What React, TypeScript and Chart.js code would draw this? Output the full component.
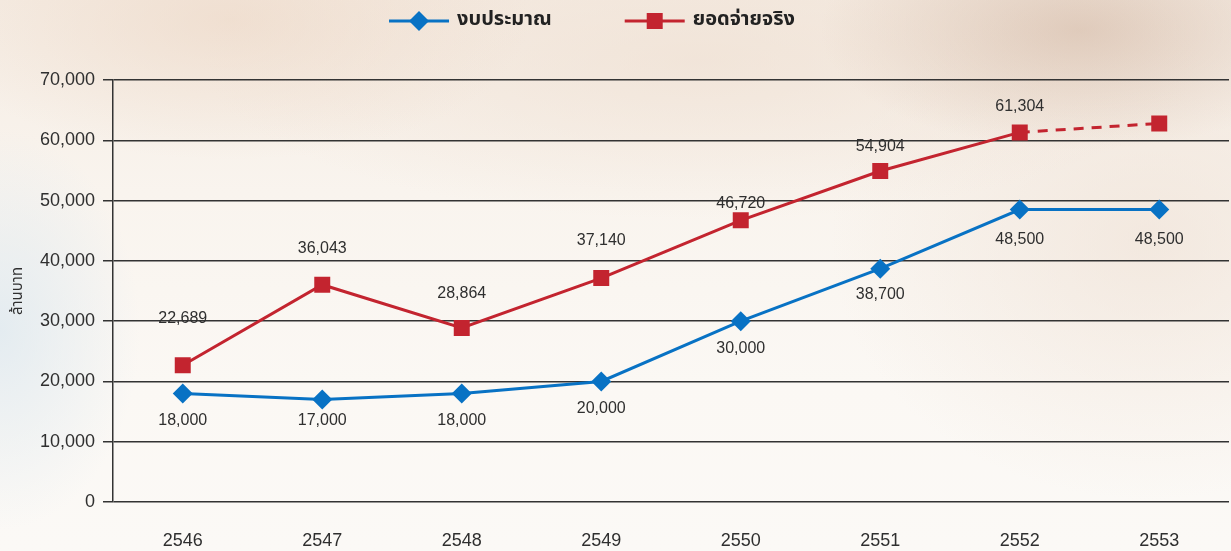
import React, { useEffect, useRef } from 'react';
import { Chart, registerables } from 'chart.js';

Chart.register(...registerables);

const years = ['2546', '2547', '2548', '2549', '2550', '2551', '2552', '2553'];
const budget = [18000, 17000, 18000, 20000, 30000, 38700, 48500, 48500];
const actual = [22689, 36043, 28864, 37140, 46720, 54904, 61304, 62800];
const actualLabelShown = [true, true, true, true, true, true, true, false];
const budgetLabelDy = [27, 21, 27, 27, 27, 26, 30, 30];
const actualLabelDy = [-47, -36, -34, -38, -17, -24, -26, 0];
const seriesNames = ['งบประมาณ', 'ยอดจ่ายจริง'];
const yAxisTitle = 'ล้านบาท';

const BLUE = '#0872c4';
const RED = '#c3242f';
const TEXT = '#2f2f2f';
const NUM_FONT = '"Liberation Sans", Arial, Helvetica, sans-serif';
const THAI_FONT = '"Noto Sans Thai", "Noto Sans", "DejaVu Sans", sans-serif';

const fmt = (v: number) => v.toLocaleString('en-US');

const labelPlugin = {
  id: 'valueLabels',
  afterDatasetsDraw(chart: any) {
    const ctx = chart.ctx;
    ctx.save();
    ctx.font = `16px ${NUM_FONT}`;
    ctx.fillStyle = TEXT;
    ctx.textAlign = 'center';
    ctx.textBaseline = 'middle';
    const m0 = chart.getDatasetMeta(0);
    m0.data.forEach((pt: any, i: number) => {
      ctx.fillText(fmt(budget[i]), pt.x, pt.y + budgetLabelDy[i]);
    });
    const m1 = chart.getDatasetMeta(1);
    m1.data.forEach((pt: any, i: number) => {
      if (!actualLabelShown[i]) return;
      ctx.fillText(fmt(actual[i]), pt.x, pt.y + actualLabelDy[i]);
    });
    ctx.restore();
  },
};

const legendPlugin = {
  id: 'customLegend',
  afterDraw(chart: any) {
    const ctx = chart.ctx;
    ctx.save();
    ctx.font = `bold 20px ${THAI_FONT}`;
    ctx.textBaseline = 'middle';
    const lineW = 60;
    const gapText = 8;
    const gapItems = 73;
    const w0 = ctx.measureText(seriesNames[0]).width;
    const w1 = ctx.measureText(seriesNames[1]).width;
    const total = lineW + gapText + w0 + gapItems + lineW + gapText + w1;
    const cx = 592;
    const y = 21;
    let x = cx - total / 2;
    const colors = [BLUE, RED];
    const widths = [w0, w1];
    for (let k = 0; k < 2; k++) {
      ctx.strokeStyle = colors[k];
      ctx.lineWidth = 3;
      ctx.beginPath();
      ctx.moveTo(x, y);
      ctx.lineTo(x + lineW, y);
      ctx.stroke();
      ctx.fillStyle = colors[k];
      const mx = x + lineW / 2;
      ctx.beginPath();
      if (k === 0) {
        ctx.moveTo(mx - 10, y);
        ctx.lineTo(mx, y - 10);
        ctx.lineTo(mx + 10, y);
        ctx.lineTo(mx, y + 10);
        ctx.closePath();
      } else {
        ctx.rect(mx - 8, y - 8, 16, 16);
      }
      ctx.fill();
      ctx.fillStyle = '#222';
      ctx.textAlign = 'left';
      ctx.fillText(seriesNames[k], x + lineW + gapText, y);
      x += lineW + gapText + widths[k] + gapItems;
    }
    ctx.restore();
  },
};

export default function App() {
  const ref = useRef<HTMLCanvasElement | null>(null);

  useEffect(() => {
    document.body.style.margin = '0';
    if (!ref.current) return;
    const chart = new Chart(ref.current, {
      type: 'line',
      data: {
        labels: years,
        datasets: [
          {
            label: seriesNames[0],
            data: budget,
            borderColor: BLUE,
            backgroundColor: BLUE,
            borderWidth: 3,
            pointStyle: 'rectRot',
            pointRadius: 10,
            pointBorderWidth: 0,
            tension: 0,
          },
          {
            label: seriesNames[1],
            data: actual,
            borderColor: RED,
            backgroundColor: RED,
            borderWidth: 3,
            pointStyle: 'rect',
            pointRadius: 11.3,
            pointBorderWidth: 0,
            tension: 0,
            segment: {
              borderDash: (c: any) => (c.p1DataIndex === 7 ? [10, 8] : undefined),
            },
          },
        ],
      },
      options: {
        animation: false,
        responsive: false,
        maintainAspectRatio: false,
        layout: { autoPadding: false, padding: { top: 80, left: 0, right: 2, bottom: 0 } },
        plugins: {
          legend: { display: false },
          tooltip: { enabled: false },
        },
        scales: {
          x: {
            offset: true,
            grid: { display: false, drawTicks: false },
            border: { display: false },
            ticks: {
              color: TEXT,
              font: { family: NUM_FONT, size: 18 },
              padding: 28,
            },
            afterFit: (s: any) => {
              s.height = 49;
              s.paddingLeft = 0;
              s.paddingRight = 0;
            },
          },
          y: {
            min: 0,
            max: 70000,
            ticks: {
              stepSize: 10000,
              color: TEXT,
              font: { family: NUM_FONT, size: 18 },
              padding: 8,
              callback: (v: any) => fmt(Number(v)),
            },
            grid: {
              color: '#333333',
              lineWidth: 1.5,
              tickLength: 10,
              drawTicks: true,
            },
            border: { display: true, color: '#333333', width: 1.5 },
            title: {
              display: true,
              text: yAxisTitle,
              color: TEXT,
              font: { family: THAI_FONT, size: 15 },
              padding: { top: 10, bottom: 4 },
            },
            afterFit: (s: any) => {
              s.width = 113;
            },
          },
        },
      },
      plugins: [labelPlugin, legendPlugin],
    });
    return () => chart.destroy();
  }, []);

  const bg = [
    'radial-gradient(ellipse 260px 120px at 1080px 30px, rgba(215,190,172,0.7), rgba(215,190,172,0) 100%)',
    'radial-gradient(ellipse 300px 140px at 230px 20px, rgba(236,214,196,0.6), rgba(236,214,196,0) 100%)',
    'radial-gradient(ellipse 500px 160px at 700px 60px, rgba(238,222,208,0.6), rgba(238,222,208,0) 100%)',
    'radial-gradient(ellipse 140px 200px at 0px 330px, rgba(222,233,240,0.8), rgba(222,233,240,0) 100%)',
    'radial-gradient(ellipse 320px 260px at 1150px 240px, rgba(238,224,212,0.6), rgba(238,224,212,0) 100%)',
    'linear-gradient(180deg, #f5ece3 0%, #f9f4ee 35%, #fbf8f4 70%, #fbf9f6 100%)',
  ].join(', ');

  return (
    <div style={{ width: 1231, height: 551, position: 'relative', background: bg, overflow: 'hidden' }}>
      <canvas ref={ref} width={1231} height={551} style={{ display: 'block', width: 1231, height: 551 }} />
    </div>
  );
}
